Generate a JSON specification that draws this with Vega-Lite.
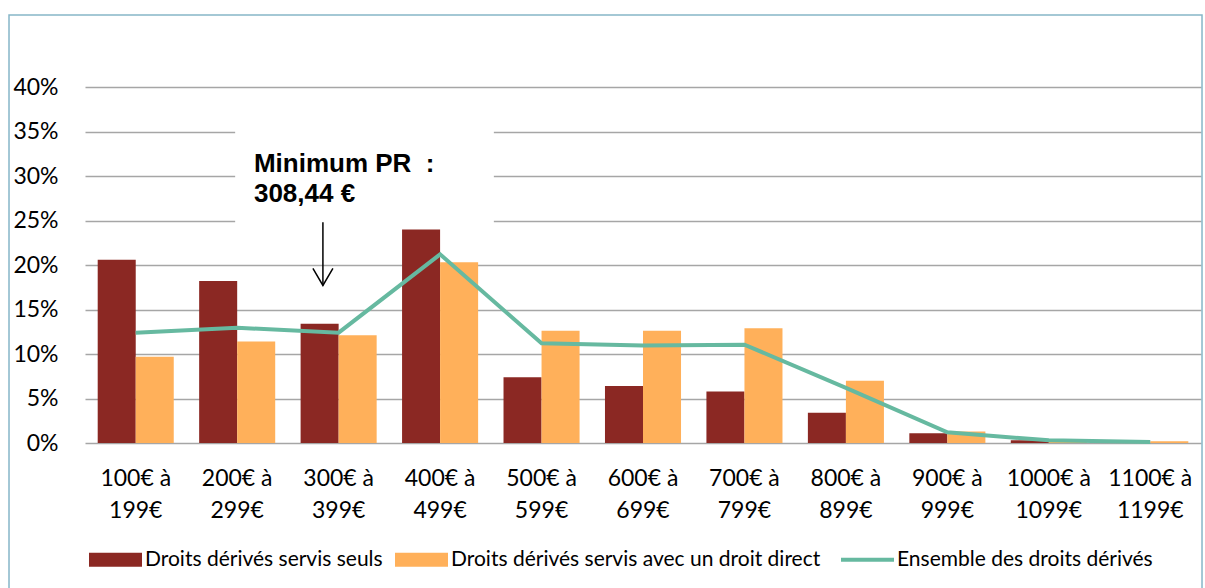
{
  "$schema": "https://vega.github.io/schema/vega-lite/v6.json",
  "width": 1116,
  "height": 356,
  "autosize": {"type": "none"},
  "padding": {"left": 85, "top": 87, "right": 4, "bottom": 145},
  "config": {"view": {"stroke": null}, "font": "Lato"},
  "datasets": {
    "bars": [
      {"tranche": "100€ à 199€", "serie": "Droits dérivés servis seuls", "part": 20.6},
      {"tranche": "100€ à 199€", "serie": "Droits dérivés servis avec un droit direct", "part": 9.7},
      {"tranche": "200€ à 299€", "serie": "Droits dérivés servis seuls", "part": 18.2},
      {"tranche": "200€ à 299€", "serie": "Droits dérivés servis avec un droit direct", "part": 11.4},
      {"tranche": "300€ à 399€", "serie": "Droits dérivés servis seuls", "part": 13.4},
      {"tranche": "300€ à 399€", "serie": "Droits dérivés servis avec un droit direct", "part": 12.1},
      {"tranche": "400€ à 499€", "serie": "Droits dérivés servis seuls", "part": 24.0},
      {"tranche": "400€ à 499€", "serie": "Droits dérivés servis avec un droit direct", "part": 20.3},
      {"tranche": "500€ à 599€", "serie": "Droits dérivés servis seuls", "part": 7.4},
      {"tranche": "500€ à 599€", "serie": "Droits dérivés servis avec un droit direct", "part": 12.6},
      {"tranche": "600€ à 699€", "serie": "Droits dérivés servis seuls", "part": 6.4},
      {"tranche": "600€ à 699€", "serie": "Droits dérivés servis avec un droit direct", "part": 12.6},
      {"tranche": "700€ à 799€", "serie": "Droits dérivés servis seuls", "part": 5.8},
      {"tranche": "700€ à 799€", "serie": "Droits dérivés servis avec un droit direct", "part": 12.9},
      {"tranche": "800€ à 899€", "serie": "Droits dérivés servis seuls", "part": 3.4},
      {"tranche": "800€ à 899€", "serie": "Droits dérivés servis avec un droit direct", "part": 7.0},
      {"tranche": "900€ à 999€", "serie": "Droits dérivés servis seuls", "part": 1.1},
      {"tranche": "900€ à 999€", "serie": "Droits dérivés servis avec un droit direct", "part": 1.3},
      {"tranche": "1000€ à 1099€", "serie": "Droits dérivés servis seuls", "part": 0.3},
      {"tranche": "1000€ à 1099€", "serie": "Droits dérivés servis avec un droit direct", "part": 0.2},
      {"tranche": "1100€ à 1199€", "serie": "Droits dérivés servis seuls", "part": 0.05},
      {"tranche": "1100€ à 1199€", "serie": "Droits dérivés servis avec un droit direct", "part": 0.2}
    ],
    "line": [
      {"tranche": "100€ à 199€", "serie": "Ensemble des droits dérivés", "part": 12.4},
      {"tranche": "200€ à 299€", "serie": "Ensemble des droits dérivés", "part": 12.95},
      {"tranche": "300€ à 399€", "serie": "Ensemble des droits dérivés", "part": 12.4},
      {"tranche": "400€ à 499€", "serie": "Ensemble des droits dérivés", "part": 21.2},
      {"tranche": "500€ à 599€", "serie": "Ensemble des droits dérivés", "part": 11.2},
      {"tranche": "600€ à 699€", "serie": "Ensemble des droits dérivés", "part": 10.95},
      {"tranche": "700€ à 799€", "serie": "Ensemble des droits dérivés", "part": 11.05},
      {"tranche": "800€ à 899€", "serie": "Ensemble des droits dérivés", "part": 6.2},
      {"tranche": "900€ à 999€", "serie": "Ensemble des droits dérivés", "part": 1.2},
      {"tranche": "1000€ à 1099€", "serie": "Ensemble des droits dérivés", "part": 0.3},
      {"tranche": "1100€ à 1199€", "serie": "Ensemble des droits dérivés", "part": 0.1}
    ]
  },
  "layer": [
    {
      "layer": [
        {
          "data": {"name": "bars"},
          "mark": {"type": "bar"},
          "encoding": {
            "x": {
              "field": "tranche", "type": "nominal",
              "sort": ["100€ à 199€","200€ à 299€","300€ à 399€","400€ à 499€","500€ à 599€","600€ à 699€","700€ à 799€","800€ à 899€","900€ à 999€","1000€ à 1099€","1100€ à 1199€"],
              "scale": {"paddingInner": 0, "paddingOuter": 0},
              "axis": {
                "title": null, "domain": false, "ticks": false, "grid": false,
                "labelAngle": 0, "labelFont": "Lato", "labelFontSize": 23, "labelColor": "#000000",
                "labelPadding": 24, "labelLineHeight": 32,
                "labelExpr": "[slice(datum.label, 0, indexof(datum.label, ' à ') + 2), slice(datum.label, indexof(datum.label, ' à ') + 3)]"
              }
            },
            "xOffset": {
              "field": "serie", "type": "nominal",
              "sort": ["Droits dérivés servis seuls", "Droits dérivés servis avec un droit direct"],
              "scale": {"paddingInner": 0, "paddingOuter": 0.334}
            },
            "y": {
              "field": "part", "type": "quantitative",
              "scale": {"domain": [0, 40], "nice": false},
              "axis": {
                "title": null, "domain": false, "ticks": false,
                "values": [0, 5, 10, 15, 20, 25, 30, 35, 40],
                "labelExpr": "datum.value + '%'",
                "labelFont": "Lato", "labelFontSize": 23, "labelColor": "#000000", "labelPadding": 27,
                "gridColor": "#A6A6A6", "gridWidth": 1.5
              }
            },
            "color": {
              "field": "serie", "type": "nominal",
              "scale": {
                "domain": ["Droits dérivés servis seuls", "Droits dérivés servis avec un droit direct", "Ensemble des droits dérivés"],
                "range": ["#8B2823", "#FFB05A", "#66B9A0"]
              },
              "legend": {
                "title": null, "orient": "none", "direction": "horizontal",
                "legendX": 20, "legendY": 462,
                "labelFont": "Lato", "labelFontSize": 21, "labelColor": "#000000", "labelLimit": 0,
                "symbolSize": 2809, "labelOffset": 19, "columnPadding": 12,
                "encode": {
                  "symbols": {
                    "update": {
                      "shape": {"signal": "datum.value === 'Ensemble des droits dérivés' ? 'M-1,0H1' : 'M-1,-0.26H1V0.26H-1Z'"},
                      "fill": {"signal": "datum.value === 'Ensemble des droits dérivés' ? 'transparent' : scale('color', datum.value)"},
                      "stroke": {"signal": "scale('color', datum.value)"},
                      "strokeWidth": {"signal": "datum.value === 'Ensemble des droits dérivés' ? 4 : 0"},
                      "opacity": {"value": 1},
                      "fillOpacity": {"value": 1}
                    }
                  }
                }
              }
            }
          }
        },
        {
          "data": {"name": "line"},
          "mark": {"type": "line", "strokeWidth": 4},
          "encoding": {
            "x": {"field": "tranche", "type": "nominal", "sort": ["100€ à 199€","200€ à 299€","300€ à 399€","400€ à 499€","500€ à 599€","600€ à 699€","700€ à 799€","800€ à 899€","900€ à 999€","1000€ à 1099€","1100€ à 1199€"]},
            "y": {"field": "part", "type": "quantitative"},
            "color": {"field": "serie", "type": "nominal"}
          }
        }
      ]
    },
    {
      "data": {"values": [{}]},
      "layer": [
        {
          "mark": {"type": "rect", "fill": null, "stroke": "#86B6C8", "strokeWidth": 1.5},
          "encoding": {
            "x": {"datum": -0.749, "type": "quantitative", "scale": {"domain": [0, 11], "nice": false, "zero": false}, "axis": null},
            "x2": {"datum": 11.01},
            "y": {"datum": 48.1, "type": "quantitative"},
            "y2": {"datum": -20}
          }
        },
        {
          "mark": {"type": "rect", "fill": "#FFFFFF", "stroke": null},
          "encoding": {
            "x": {"datum": 1.48, "type": "quantitative"},
            "x2": {"datum": 4.03},
            "y": {"datum": 24.6, "type": "quantitative"},
            "y2": {"datum": 36.8}
          }
        },
        {
          "mark": {"type": "text", "align": "left", "baseline": "alphabetic", "font": "Liberation Sans", "fontWeight": "bold", "fontSize": 26, "lineHeight": 30, "color": "#000000", "text": ["Minimum PR\u00a0\u00a0:", "308,44 €"]},
          "encoding": {
            "x": {"datum": 1.665, "type": "quantitative"},
            "y": {"datum": 30.45, "type": "quantitative"}
          }
        },
        {
          "mark": {"type": "rule", "color": "#000000", "strokeWidth": 1.5},
          "encoding": {
            "x": {"datum": 2.345, "type": "quantitative"},
            "y": {"datum": 24.8, "type": "quantitative"},
            "y2": {"datum": 17.7}
          }
        },
        {
          "mark": {"type": "point", "shape": "M-1,-1.7L0,0L1,-1.7", "filled": false, "stroke": "#000000", "strokeWidth": 1.5, "size": 400, "opacity": 1},
          "encoding": {
            "x": {"datum": 2.345, "type": "quantitative"},
            "y": {"datum": 17.7, "type": "quantitative"}
          }
        }
      ]
    }
  ],
  "resolve": {"scale": {"x": "independent"}, "axis": {"x": "independent"}}
}
